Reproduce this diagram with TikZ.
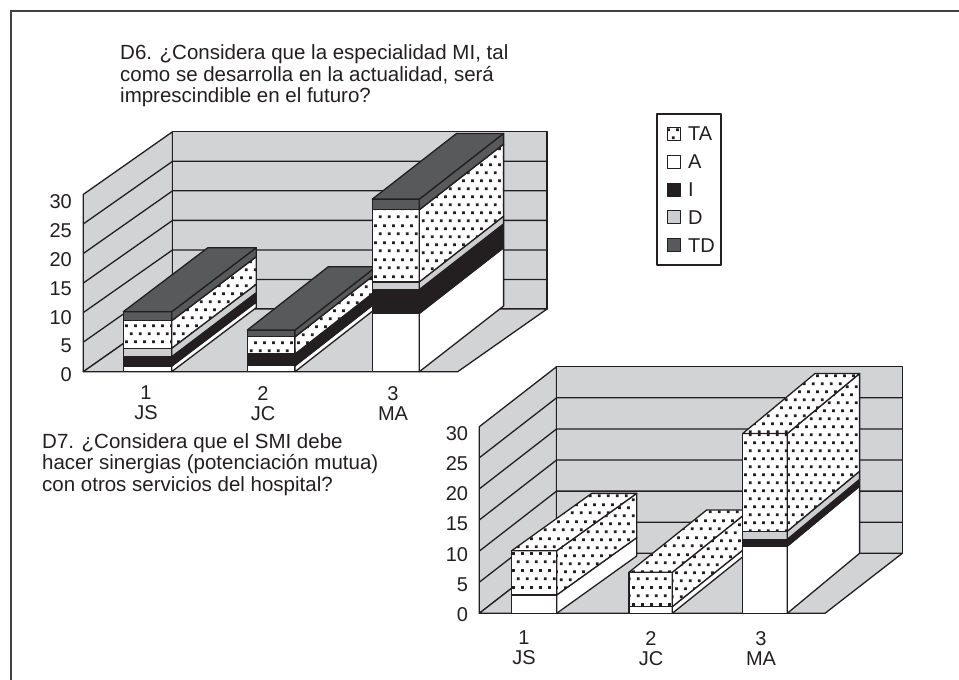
\documentclass[tikz,border=0pt]{standalone}
\usepackage{fontspec}
\setmainfont{Liberation Sans}
\usetikzlibrary{patterns}

\definecolor{ink}{RGB}{35,31,32}
\definecolor{wallgray}{RGB}{210,211,213}
\definecolor{dgray}{RGB}{205,206,208}
\definecolor{tdgray}{RGB}{88,89,91}

%% dotted fill of the TA answers
\pgfdeclarepatternformonly{tadots}{\pgfpointorigin}{\pgfqpoint{8.6pt}{16.4pt}}{\pgfqpoint{8.6pt}{16.4pt}}{%
  \pgfpathrectangle{\pgfqpoint{1pt}{1pt}}{\pgfqpoint{2.8pt}{2.8pt}}%
  \pgfpathrectangle{\pgfqpoint{5.3pt}{9.2pt}}{\pgfqpoint{2.8pt}{2.8pt}}%
  \pgfusepath{fill}}

\tikzset{
  frame/.style={draw=ink!85, line width=1.6pt},
  wall/.style={fill=wallgray, draw=ink, line width=1.3pt, line join=round},
  gridline/.style={draw=ink, line width=1.3pt},
  seg/.style={draw=ink, line width=1.3pt, line join=round},
  segA/.style={seg, fill=white},
  segI/.style={seg, fill=ink},
  segD/.style={seg, fill=dgray},
  segTD/.style={seg, fill=tdgray},
  segTA/.style={seg, preaction={fill=white}, pattern=tadots, pattern color=ink},
  txt/.style={inner sep=0pt, text=ink, font=\fontsize{20}{20}\selectfont},
  question/.style={txt, align=left, anchor=north west, font=\fontsize{20.5}{21.5}\selectfont},
  ylab/.style={txt, anchor=east},
  catlab/.style={txt, align=center, anchor=north},
}

% walls and floor of a chart: depth x, depth y, floor width
\newcommand{\chartwalls}[3]{%
  \filldraw[wall] (0,0) -- (0,30) -- ++(#1pt,#2pt) -- ++(0,-30) -- cycle;
  \filldraw[wall] (0,0) ++(#1pt,#2pt) rectangle ++(#3,30);
  \filldraw[wall] (0,0) -- (#3,0) -- ++(#1pt,#2pt) -- ++(-#3,0) -- cycle;
  \foreach \v in {5,10,...,25}
    \draw[gridline] (0,\v) -- ++(#1pt,#2pt) -- ++(#3,0);
}

% stacked bar: left, width, depth x, depth y, top, top style, segments
\newcommand{\stackbar}[7]{%
  \foreach \lo/\hi/\sty in {#7} {
    \draw[\sty] (#1,\lo) rectangle (#1+#2,\hi);
    \draw[\sty] (#1+#2,\lo) -- ++(#3pt,#4pt) -- ++(0,\hi-\lo) -- (#1+#2,\hi) -- cycle;
  }
  \draw[#6] (#1,#5) -- ++(#3pt,#4pt) -- ++(#2,0) -- (#1+#2,#5) -- cycle;
}

\begin{document}
\begin{tikzpicture}[x=1pt, y=-1pt]
  \useasboundingbox (0,0) rectangle (959,680);
  %% Frame
  \draw[frame] (11,680) -- (11,11) -- (959,11);

  %% Questions
  \node[question] (qsix) at (120,44.5) {D6. ¿Considera que la especialidad MI, tal\\como se desarrolla en la actualidad, será\\imprescindible en el futuro?};
  \node[question] (qseven) at (42,433) {D7. ¿Considera que el SMI debe\\hacer sinergias (potenciación mutua)\\con otros servicios del hospital?};

  %% Chart D6
  \begin{scope}[shift={(83.3,371.7)}, y=5.91pt]
    \chartwalls{89.3}{62.7}{374.4}
    \stackbar{40}{48.4}{84.5}{64}{10.15}{segTD}{0/0.96/segA, 0.96/2.54/segI, 2.54/3.97/segD, 3.97/8.63/segTA, 8.63/10.15/segTD}
    \stackbar{164}{47.7}{81}{63.3}{7.05}{segTD}{0/1/segA, 1/3/segI, 3/5.9/segTA, 5.9/7.05/segTD}
    \stackbar{289}{47}{84.3}{65.7}{29.2}{segTD}{0/9.87/segA, 9.87/13.9/segI, 13.9/15.2/segD, 15.2/27.4/segTA, 27.4/29.2/segTD}
  \end{scope}
  \foreach \v [count=\idx from 0] in {0,5,...,30}
    \node[ylab] (sixy\v) at (72,{375-28.9*\idx}) {\v};
  \node[catlab] (sixjs) at (146,386) {1\\JS};
  \node[catlab] (sixjc) at (263,386) {2\\JC};
  \node[catlab] (sixma) at (393,386) {3\\MA};

  %% Legend
  \draw[seg] (657,114) rectangle (721,265);
  \foreach \nm/\sty [count=\idx from 0] in {TA/segTA, A/segA, I/segI, D/segD, TD/segTD} {
    \draw[\sty, line width=1pt] (667,{127.5+27.8*\idx}) rectangle ++(13,13);
    \node[txt, anchor=west] (leg\nm) at (688,{134+27.8*\idx}) {\nm};
  }

  %% Chart D7
  \begin{scope}[shift={(479.3,613.3)}, y=6.22pt]
    \chartwalls{77.3}{60}{345.7}
    \stackbar{32.4}{45}{80}{57.3}{10.07}{segTA}{0/2.95/segA, 2.95/10.07/segTA}
    \stackbar{149.7}{43.3}{77.7}{62.3}{6.6}{segTA}{0/1.07/segA, 1.07/6.6/segTA}
    \stackbar{263.4}{44.6}{72.3}{60}{28.9}{segTA}{0/10.8/segA, 10.8/11.9/segI, 11.9/13.2/segD, 13.2/28.9/segTA}
  \end{scope}
  \foreach \v [count=\idx from 0] in {0,5,...,30}
    \node[ylab] (seveny\v) at (468.3,{615-30.3*\idx}) {\v};
  \node[catlab] (sevenjs) at (524,631) {1\\JS};
  \node[catlab] (sevenjc) at (651,631) {2\\JC};
  \node[catlab] (sevenma) at (761,631) {3\\MA};
\end{tikzpicture}
\end{document}
